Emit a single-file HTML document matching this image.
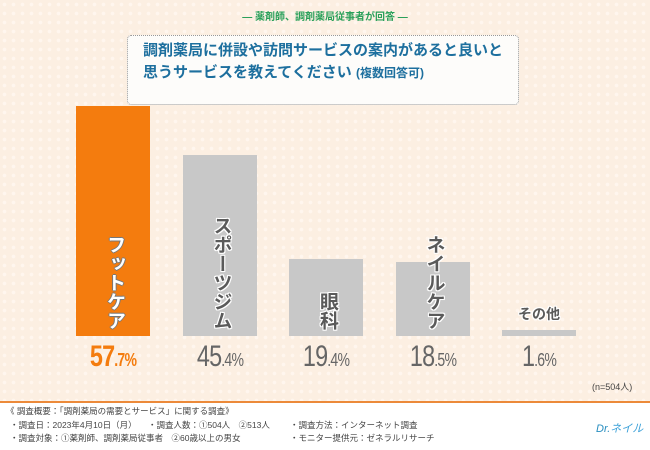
<!DOCTYPE html>
<html><head><meta charset="utf-8">
<style>
body{margin:0}
#root{position:relative;width:650px;height:450px;overflow:hidden;font-family:"Liberation Sans","Noto Sans CJK JP",sans-serif;
background-color:#fcefe2;background-image:radial-gradient(circle,#fff6ee 1.6px,transparent 2px);background-size:9px 9px}
.abs{position:absolute}
.lbl{position:absolute;color:#5a5a5a;font-weight:bold;font-size:19px;writing-mode:vertical-rl;letter-spacing:0px;
text-shadow:1px 0 #fff,-1px 0 #fff,0 1px #fff,0 -1px #fff,1px 1px #fff,-1px -1px #fff,1px -1px #fff,-1px 1px #fff}
.pct{position:absolute;top:340px;font-size:30px;font-weight:normal;text-align:center;width:100px;letter-spacing:-1px;transform:scaleX(0.78)}
.pct small{font-size:18px}
.ft{position:absolute;font-size:8.5px;color:#444}
</style></head><body>
<div id="root">
<div class="abs" style="top:8px;left:0;width:650px;text-align:center;color:#2aa05a;font-size:10px;font-weight:bold">— 薬剤師、調剤薬局従事者が回答 —</div>
<div class="abs" style="left:127px;top:35px;width:392px;height:70px;border:1.5px dotted #999;border-radius:4px;background:#fdfcfa;box-sizing:border-box"></div>
<div class="abs" style="left:143px;top:40px;color:#1d6f9e;font-size:15px;font-weight:bold;line-height:22px">調剤薬局に併設や訪問サービスの案内があると良いと<br>思うサービスを教えてください <span style="font-size:12px">(複数回答可)</span></div>
<div id="bars"></div>
<div class="abs" style="left:592px;top:380px;font-size:9px;color:#444">(n=504人)</div>
<div class="abs" style="left:0;top:401px;width:650px;height:1.5px;background:#ec8a3a"></div>
<div class="abs" style="left:0;top:402.5px;width:650px;height:48px;background:#fff"></div>
<div class="ft" style="left:6px;top:405px">《 調査概要：「調剤薬局の需要とサービス」に関する調査》</div>
<div class="ft" style="left:10px;top:419px">・調査日：2023年4月10日（月）</div>
<div class="ft" style="left:148px;top:419px">・調査人数：①504人　②513人</div>
<div class="ft" style="left:290px;top:419px">・調査方法：インターネット調査</div>
<div class="ft" style="left:10px;top:432px">・調査対象：①薬剤師、調剤薬局従事者　②60歳以上の男女</div>
<div class="ft" style="left:290px;top:432px">・モニター提供元：ゼネラルリサーチ</div>
<div class="abs" style="left:596px;top:420px;font-size:11px;color:#2a8fc0;font-style:italic">Dr.<span style="color:#3aa0d8">ネイル</span></div>
</div>
<script>
const categories=["フットケア","スポーツジム","眼科","ネイルケア","その他"];
const values=[57.7,45.4,19.4,18.5,1.6];
const pctMain=["57.","45.","19.","18.","1."];
const pctDec=["7%","4%","4%","5%","6%"];
const baseY=336, scale=3.99, x0=76, pitch=106.5, bw=74;
const yH=v=>v*scale;
const xB=i=>x0+i*pitch;
const c=document.getElementById('bars');
categories.forEach((cat,i)=>{
  const h=yH(values[i]);
  const b=document.createElement('div');
  
  
  b.className='abs';
  b.style.cssText=`left:${xB(i)}px;top:${baseY-h}px;width:${bw}px;height:${h}px;background:${i==0?'#f47c0e':'#c8c8c8'}`;
  c.appendChild(b);
  const l=document.createElement('div');
  
  
  l.className='lbl';
  l.textContent=cat;
  if(i<4){l.style.left=(xB(i)+bw/2-12)+'px';l.style.bottom=(450-baseY+6)+'px';}
  else{l.style.writingMode='horizontal-tb';l.style.fontSize='14px';l.style.left=(xB(i)+bw/2-21)+'px';l.style.top=(baseY-h-26)+'px';}
  if(i==0){l.style.color='#fff';l.style.textShadow='1px 0 #777,-1px 0 #777,0 1px #777,0 -1px #777';}
  c.appendChild(l);
  const p=document.createElement('div');
  
  
  p.className='pct';
  p.style.left=(xB(i)+bw/2-50)+'px';
  p.style.color=i==0?'#f47c0e':'#666';
  if(i==0)p.style.fontWeight='bold';
  p.innerHTML=pctMain[i].replace('.','')+'<small>.'+pctDec[i]+'</small>';
  c.appendChild(p);
});
</script>
</body></html>
